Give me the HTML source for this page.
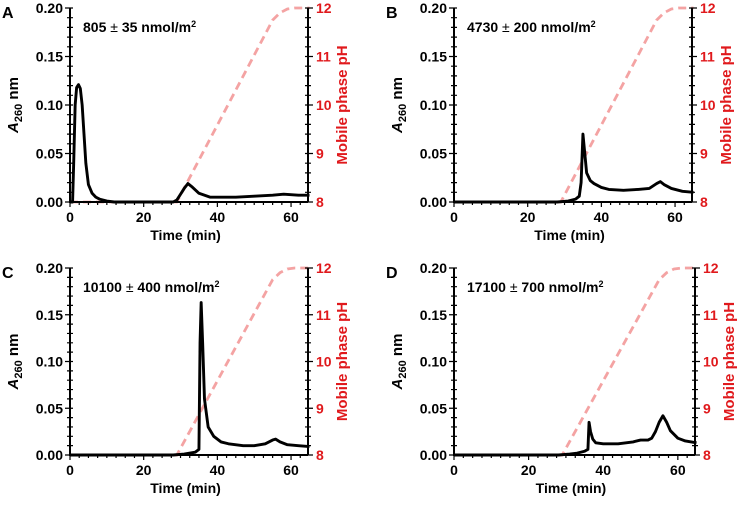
<!DOCTYPE html>
<html><head><meta charset="utf-8"><style>
body{margin:0;background:#fff;}
svg{display:block;font-family:"Liberation Sans",sans-serif;font-weight:bold;}
</style></head><body>
<svg id="fig" width="750" height="506" viewBox="0 0 750 506"></svg>
<script>
const panelLetters = ["A","B","C","D"];
const panelLabels = ["805 ","4730 ","10100 ","17100 "];
const panelErrs = [" 35 nmol/m"," 200 nmol/m"," 400 nmol/m"," 700 nmol/m"];
const xTicks = [0,20,40,60];
const yTicks = [0,0.05,0.10,0.15,0.20];
const yTickLabels = ["0.00","0.05","0.10","0.15","0.20"];
const pHTicks = [8,9,10,11,12];
const timeA = [0,0.7,1.0,1.4,1.8,2.3,2.8,3.3,3.8,4.3,5,6,7,8,10,12,28,29,30,31,32,33,35,38,45,50,55,58,62,65];
const absA  = [0,0,0.04,0.1,0.118,0.121,0.117,0.1,0.07,0.04,0.018,0.009,0.005,0.003,0.001,0,0,0.002,0.008,0.014,0.019,0.016,0.009,0.005,0.005,0.006,0.007,0.008,0.007,0.007];
const timeB = [0,28,31,33,34,34.5,35,35.5,36,37,38,40,42,46,50,53,55,56,57,59,62,65];
const absB  = [0,0,0.001,0.003,0.006,0.02,0.07,0.05,0.03,0.022,0.019,0.015,0.013,0.012,0.013,0.014,0.019,0.021,0.018,0.014,0.011,0.01];
const timeC = [0,28,31,34,35,35.3,35.6,36,36.5,37.5,39,41,43,47,50,53,55,55.8,57,59,62,65];
const absC  = [0,0,0.001,0.003,0.006,0.12,0.163,0.12,0.06,0.03,0.02,0.014,0.012,0.01,0.01,0.012,0.016,0.017,0.014,0.011,0.01,0.009];
const timeD = [0,28,31,33,35,35.9,36.2,36.6,37.2,38,40,44,48,50,52,53,54,55,56,57,58,60,62,65];
const absD  = [0,0,0.001,0.002,0.004,0.006,0.035,0.025,0.017,0.013,0.012,0.012,0.014,0.016,0.016,0.018,0.025,0.035,0.042,0.035,0.026,0.018,0.015,0.013];
const timePH = [0,29,55,57,59,61,65];
const valPH  = [8,8,11.75,11.9,11.98,12,12];
const times=[timeA,timeB,timeC,timeD], absS=[absA,absB,absC,absD];
const frames=[{l:70,r:308,t:8,b:202},{l:454,r:692,t:8,b:202},{l:70,r:308,t:268,b:455},{l:454,r:695,t:268,b:455}];
const NS="http://www.w3.org/2000/svg", svg=document.getElementById("fig");
function mk(tag,attrs,parent,text){const e=document.createElementNS(NS,tag);for(const k in attrs)e.setAttribute(k,attrs[k]);if(text!==undefined)e.textContent=text;parent.appendChild(e);return e;}
frames.forEach((f,i)=>{
  const g=mk("g",{},svg);
  
  
  const xmax=64.6;
  const X=v=>f.l+(v/xmax)*(f.r-f.l), Y=v=>f.b-(v/0.2)*(f.b-f.t), P=v=>f.b-((v-8)/4)*(f.b-f.t);
  const ph=mk("polyline",{points:timePH.map((t,j)=>X(t)+","+P(valPH[j])).join(" "),fill:"none",stroke:"#f4a3a3","stroke-width":2.8,"stroke-dasharray":"8,5"},g);
  
  
  const ln=mk("polyline",{points:times[i].map((t,j)=>X(t)+","+Y(absS[i][j])).join(" "),fill:"none",stroke:"#000","stroke-width":2.9,"stroke-linejoin":"round"},g);
  
  
  const ax=mk("path",{d:`M${f.l},${f.t}V${f.b}H${f.r}M${f.r},${f.t}V${f.b}`,fill:"none",stroke:"#000","stroke-width":2},g);
  
  
  let d="";
  for(let v=0;v<=64;v+=2.5){d+=`M${X(v)},${f.b}v${v%20===0?5:3}`;}
  for(let k=0;k<=20;k++){const y=Y(k*0.01);d+=`M${f.l},${y}h${k%5===0?-5:-3}M${f.l},${y}h3`;}
  for(let k=0;k<=20;k++){const y=P(8+k*0.2);d+=`M${f.r},${y}h${k%5===0?5:3}M${f.r},${y}h-3`;}
  const tk=mk("path",{d:d,stroke:"#000","stroke-width":1.2,fill:"none"},g);
  
  
  xTicks.forEach(v=>{const t=mk("text",{x:X(v),y:f.b+20,"text-anchor":"middle","font-size":14},g,String(v));
    });
  yTicks.forEach((v,j)=>{const t=mk("text",{x:f.l-7,y:Y(v)+5,"text-anchor":"end","font-size":14},g,yTickLabels[j]);
    });
  pHTicks.forEach(v=>{const t=mk("text",{x:f.r+8,y:P(v)+5,"text-anchor":"start","font-size":14,fill:"#e0191c"},g,String(v));
    });
  const xt=mk("text",{x:(X(0)+X(60))/2+5,y:f.b+38,"text-anchor":"middle","font-size":14},g,"Time (min)");
  
  const cy=(f.t+f.b)/2;
  const yt=mk("text",{transform:`translate(${f.l-52},${cy}) rotate(-90)`,"text-anchor":"middle","font-size":15},g);
  
  mk("tspan",{"font-style":"italic"},yt,"A");mk("tspan",{"font-size":11,dy:4},yt,"260");mk("tspan",{dy:-4},yt," nm");
  const rt=mk("text",{transform:`translate(${f.r+39},${cy}) rotate(-90)`,"text-anchor":"middle","font-size":15,fill:"#e0191c"},g,"Mobile phase pH");
  
  const pl=mk("text",{x:f.l-68,y:f.t+10,"font-size":16},g,panelLetters[i]);
  
  const an=mk("text",{x:f.l+13,y:f.t+24,"font-size":14},g);
  
  mk("tspan",{},an,panelLabels[i]);mk("tspan",{"font-weight":"normal"},an,"\u00b1");mk("tspan",{},an,panelErrs[i]);mk("tspan",{"font-size":9,dy:-5},an,"2");
});
</script>
</body></html>
